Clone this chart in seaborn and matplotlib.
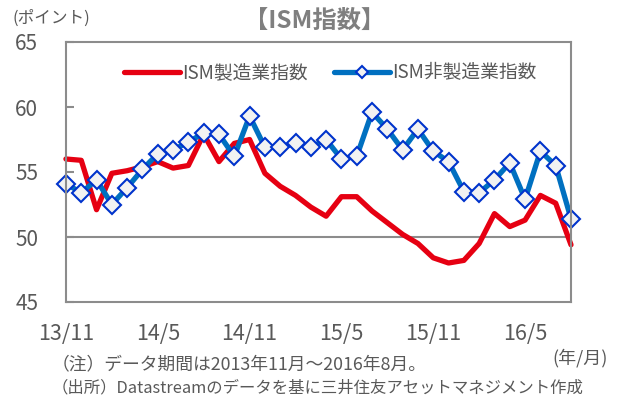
import pandas as pd
import matplotlib
matplotlib.use("Agg")
import matplotlib.pyplot as plt
import seaborn as sns

sns.set_theme(style="white")
plt.rcParams['font.family'] = ['Noto Sans CJK JP', 'DejaVu Sans']

# データ (2013年11月〜2016年8月, 月次)
months = pd.period_range("2013-11", "2016-08", freq="M")
ism_mfg = [56.0, 55.9, 52.1, 54.9, 55.1, 55.4, 55.8, 55.3, 55.5, 57.9, 55.8, 57.2,
           57.5, 54.9, 53.9, 53.2, 52.3, 51.6, 53.1, 53.1, 52.0, 51.1, 50.2, 49.5,
           48.4, 48.0, 48.2, 49.5, 51.8, 50.8, 51.3, 53.2, 52.6, 49.4]
ism_nonmfg = [54.1, 53.4, 54.4, 52.5, 53.8, 55.2, 56.4, 56.7, 57.3, 58.0, 57.9, 56.2,
              59.3, 56.9, 56.9, 57.2, 56.9, 57.5, 56.0, 56.2, 59.6, 58.3, 56.7, 58.3,
              56.6, 55.8, 53.5, 53.4, 54.4, 55.7, 52.9, 56.6, 55.5, 51.4]
tick_labels = ["13/11", "14/5", "14/11", "15/5", "15/11", "16/5"]

df = pd.DataFrame({
    "idx": range(len(months)),
    "ISM製造業指数": ism_mfg,
    "ISM非製造業指数": ism_nonmfg,
})

gray_txt = "#595959"
frame = "#8C8C8C"

fig = plt.figure(figsize=(6.22, 4.0), dpi=100)
ax = fig.add_axes([0.106, 0.245, 0.812, 0.650])

sns.lineplot(data=df, x="idx", y="ISM製造業指数", ax=ax, color="#E60012",
             linewidth=3.8, label="ISM製造業指数")
sns.lineplot(data=df, x="idx", y="ISM非製造業指数", ax=ax, color="#0070C0",
             linewidth=3.8, marker="D", markersize=9, markerfacecolor="#F2F2F2",
             markeredgecolor="#0033CC", markeredgewidth=1.5, label="ISM非製造業指数")
for ln in ax.lines:
    ln.set_clip_on(False)

ax.axhline(50, color=frame, linewidth=1.5, zorder=0)

ax.set_xlim(0, len(months) - 1)
ax.set_ylim(45, 65)
ax.set_yticks([45, 50, 55, 60, 65])
ax.set_xticks(range(0, 31, 6))
ax.set_xticklabels(tick_labels)
ax.set_xlabel("")
ax.set_ylabel("")

for s in ax.spines.values():
    s.set_color(frame)
    s.set_linewidth(1.5)

ax.tick_params(axis="y", direction="in", length=6, width=1.5, color=frame,
               pad=20, labelsize=15, labelcolor=gray_txt, left=True)
ax.tick_params(axis="x", length=0, pad=15, labelsize=15.5, labelcolor=gray_txt)

leg = ax.legend(loc="center", bbox_to_anchor=(0.523, 0.881), ncol=2, frameon=False,
                fontsize=13.5, handlelength=3.0, columnspacing=1.4, handletextpad=0.1,
                numpoints=1)
leg.legend_handles[1].set_markersize(6)
for t in leg.get_texts():
    t.set_color(gray_txt)

fig.text(0.506, 0.948, "【ISM指数】", ha="center", va="center", fontsize=17.5,
         fontweight="bold", color="#7F7F7F")
fig.text(0.02, 0.955, "(ポイント)", ha="left", va="center", fontsize=12, color=gray_txt)
fig.text(0.977, 0.105, "(年/月)", ha="right", va="center", fontsize=13, color=gray_txt)
fig.text(0.083, 0.09, "（注）データ期間は2013年11月～2016年8月。", ha="left", va="center",
         fontsize=12.8, color=gray_txt)
fig.text(0.083, 0.03, "（出所）Datastreamのデータを基に三井住友アセットマネジメント作成",
         ha="left", va="center", fontsize=11.8, color=gray_txt)

fig.savefig("out.png", dpi=100)
